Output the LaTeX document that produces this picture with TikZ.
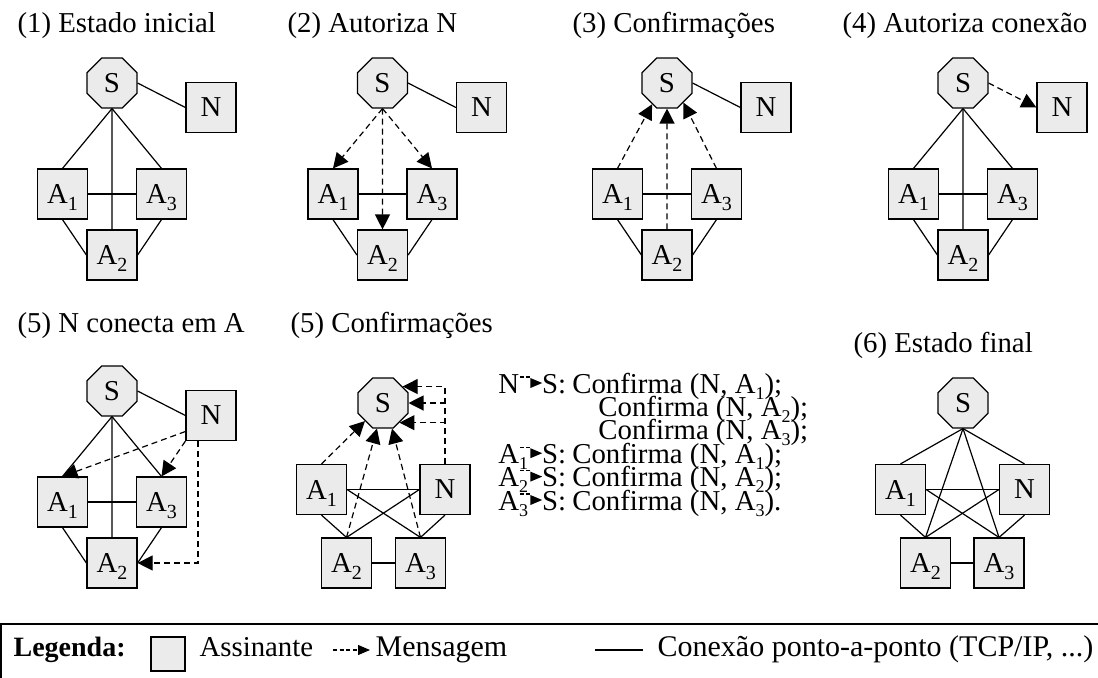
\documentclass[tikz,border=0pt]{standalone}
\usepackage{fontspec}
\setmainfont{Liberation Serif}
\usetikzlibrary{shapes.geometric,arrows.meta}

\definecolor{cinza}{gray}{0.92}
\tikzset{
  srv/.style={draw, fill=cinza, regular polygon, regular polygon sides=8, minimum size=27pt, inner sep=0pt},
  assin/.style={draw, fill=cinza, rectangle, minimum size=25pt, inner sep=0pt},
  msg/.style={dash pattern=on 3pt off 2pt, -{Triangle[length=7.5pt,width=7.5pt]}},
  titulo/.style={anchor=base west, inner sep=0pt},
}
% indice e seta tracejada dentro do texto
\newcommand{\sub}[1]{\raisebox{-3.5pt}[0pt][0pt]{\fontsize{10pt}{10pt}\selectfont #1}}
\newcommand{\lsub}[1]{\raisebox{-3pt}[0pt][0pt]{\fontsize{9pt}{9pt}\selectfont #1}}
\newcommand{\fl}{\tikz[baseline=0pt]{\draw[line width=0.6pt, dash pattern=on 2pt off 1.2pt] (0.3pt,8pt) -- (5.3pt,8pt); \fill (5.6pt,2.5pt) -- (11.5pt,5pt) -- (5.6pt,7.5pt) -- cycle;}}

\begin{document}
\begin{tikzpicture}[x=0.5pt, y=-0.5pt, line width=0.6pt, every node/.style={font=\fontsize{14.4pt}{17pt}\selectfont}]
\useasboundingbox (0,0) rectangle (1098,677);

% (1) Estado inicial
\node[titulo] (t1) at (17,32) {(1) Estado inicial};
\node[srv] (s1) at (112,83) {S};
\node[assin] (n1) at (211,107.5) {N};
\node[assin] (a11) at (62.5,194) {A\sub{1}};
\node[assin] (a13) at (161.5,194) {A\sub{3}};
\node[assin] (a12) at (112,255) {A\sub{2}};
\draw (s1.east) -- (n1.west);
\draw (s1.south) -- (a11.north);
\draw (s1.south) -- (a13.north);
\draw (s1.south) -- (a12.north);
\draw (a11) -- (a13);
\draw (a11.south) -- (a12.west);
\draw (a13.south) -- (a12.east);

% (2) Autoriza N
\node[titulo] (t2) at (287,32) {(2) Autoriza N};
\node[srv] (s2) at (382.5,83) {S};
\node[assin] (n2) at (481.5,107.5) {N};
\node[assin] (a21) at (333,194) {A\sub{1}};
\node[assin] (a23) at (432,194) {A\sub{3}};
\node[assin] (a22) at (382.5,255) {A\sub{2}};
\draw (s2.east) -- (n2.west);
\draw (a21) -- (a23);
\draw (a21.south) -- (a22.west);
\draw (a23.south) -- (a22.east);
\draw[msg] (s2.south) -- (a21.north);
\draw[msg] (s2.south) -- (a23.north);
\draw[msg] (s2.south) -- (a22.north);

% (3) Confirmacoes
\node[titulo] (t3) at (572,32) {(3) Confirmações};
\node[srv] (s3) at (667,83) {S};
\node[assin] (n3) at (766,107.5) {N};
\node[assin] (a31) at (617.5,194) {A\sub{1}};
\node[assin] (a33) at (716.5,194) {A\sub{3}};
\node[assin] (a32) at (667,255) {A\sub{2}};
\draw (s3.east) -- (n3.west);
\draw (a31) -- (a33);
\draw (a31.south) -- (a32.west);
\draw (a33.south) -- (a32.east);
\draw[msg] (a31.north) -- (s3.-125);
\draw[msg] (a32.north) -- (s3.south);
\draw[msg] (a33.north) -- (s3.-50);

% (4) Autoriza conexao
\node[titulo] (t4) at (842,32) {(4) Autoriza conexão};
\node[srv] (s4) at (963,83) {S};
\node[assin] (n4) at (1062,107.5) {N};
\node[assin] (a41) at (913.5,194) {A\sub{1}};
\node[assin] (a43) at (1012.5,194) {A\sub{3}};
\node[assin] (a42) at (963,255) {A\sub{2}};
\draw[msg] (s4.east) -- (n4.west);
\draw (s4.south) -- (a41.north);
\draw (s4.south) -- (a43.north);
\draw (s4.south) -- (a42.north);
\draw (a41) -- (a43);
\draw (a41.south) -- (a42.west);
\draw (a43.south) -- (a42.east);

% (5) N conecta em A
\node[titulo] (t5) at (17,332) {(5) N conecta em A};
\node[srv] (s5) at (112,391) {S};
\node[assin] (n5) at (211,415.5) {N};
\node[assin] (a51) at (62.5,502) {A\sub{1}};
\node[assin] (a53) at (161.5,502) {A\sub{3}};
\node[assin] (a52) at (112,563) {A\sub{2}};
\draw (s5.east) -- (n5.west);
\draw (s5.south) -- (a51.north);
\draw (s5.south) -- (a53.north);
\draw (s5.south) -- (a52.north);
\draw (a51) -- (a53);
\draw (a51.south) -- (a52.west);
\draw (a53.south) -- (a52.east);
\draw[msg] ([yshift=-8pt]n5.west) -- (a51.north);
\draw[msg] (n5.south west) -- (a53.north);
\draw[msg] ([xshift=-6.5pt]n5.south) |- (a52.east);

% (5) Confirmacoes
\node[titulo] (t6) at (290,332) {(5) Confirmações};
\node[srv] (s6) at (383,403) {S};
\node[assin] (a61) at (321.5,489.5) {A\sub{1}};
\node[assin] (n6) at (445,489.5) {N};
\node[assin] (a62) at (346.5,563) {A\sub{2}};
\node[assin] (a63) at (420.5,563) {A\sub{3}};
\draw (a61.east) -- (n6.west);
\draw (a61.east) -- (a63.north);
\draw (n6.west) -- (a62.north);
\draw (a61.south) -- (a62.north);
\draw (n6.south) -- (a63.north);
\draw (a62) -- (a63);
\draw[msg] (a61.north) -- (s6.south west);
\draw[msg] (a62.north) -- ([xshift=-3pt]s6.south);
\draw[msg] (a63.north) -- ([xshift=4.5pt]s6.south);
\draw[msg] (n6.north) |- (s6.40);
\draw[msg] (n6.north) |- (s6.east);
\draw[msg] (n6.north) |- (s6.-50);

% lista de mensagens
\node[titulo] (lst) at (498,393) {\vtop{\baselineskip=11.7pt \lineskiplimit=-50pt
  \hbox{\makebox[37pt][l]{N\fl S:}Confirma (N, A\lsub{1});}
  \hbox{\hspace*{50pt}Confirma (N, A\lsub{2});}
  \hbox{\hspace*{50pt}Confirma (N, A\lsub{3});}
  \hbox{\makebox[37pt][l]{A\lsub{1}\kern-4.5pt\fl S:}Confirma (N, A\lsub{1});}
  \hbox{\makebox[37pt][l]{A\lsub{2}\kern-4.5pt\fl S:}Confirma (N, A\lsub{2});}
  \hbox{\makebox[37pt][l]{A\lsub{3}\kern-4.5pt\fl S:}Confirma (N, A\lsub{3}).}}};

% (6) Estado final
\node[titulo] (t7) at (853,352) {(6) Estado final};
\node[srv] (s7) at (963,403) {S};
\node[assin] (a71) at (900.5,489.5) {A\sub{1}};
\node[assin] (n7) at (1024.5,489.5) {N};
\node[assin] (a72) at (925.5,563) {A\sub{2}};
\node[assin] (a73) at (999,563) {A\sub{3}};
\draw (s7.south) -- (a71.north);
\draw (s7.south) -- (n7.north);
\draw (s7.south) -- (a72.north);
\draw (s7.south) -- (a73.north);
\draw (a71.east) -- (n7.west);
\draw (a71.east) -- (a73.north);
\draw (n7.west) -- (a72.north);
\draw (a71.south) -- (a72.north);
\draw (n7.south) -- (a73.north);
\draw (a72) -- (a73);

% legenda
\draw (1,624) rectangle (1104,682);
\node[titulo, font=\fontsize{14pt}{17pt}\selectfont\bfseries] (leg) at (13,656) {Legenda:};
\node[assin, minimum size=17pt] (lsq) at (168,654) {};
\node[titulo] (lass) at (199,656) {Assinante};
\coordinate (lm1) at (333,650);
\coordinate (lm2) at (370,650);
\draw[dash pattern=on 2pt off 1.3pt, -{Triangle[length=6pt,width=5pt]}] (lm1) -- (lm2);
\node[titulo, font=\fontsize{15pt}{17pt}\selectfont] (lmsg) at (375,656) {Mensagem};
\coordinate (lc1) at (595,650);
\coordinate (lc2) at (643,650);
\draw (lc1) -- (lc2);
\node[titulo, font=\fontsize{15pt}{17pt}\selectfont] (lcon) at (657,656) {Conexão ponto-a-ponto (TCP/IP, ...)};
\end{tikzpicture}
\end{document}
